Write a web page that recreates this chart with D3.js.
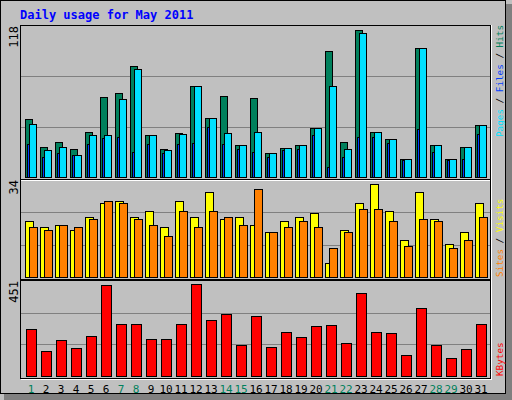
<!DOCTYPE html><html><head><meta charset="utf-8"><script src="https://cdn.jsdelivr.net/npm/d3@7"></script>
<style>body{margin:0;background:#fff}</style></head><body><svg id="c" width="512" height="400"></svg><script>
const days=d3.range(1,32);
const weekends=[1,7,8,14,15,21,22,28,29];
const hits=[45.6,23.7,27.6,22.1,35.4,62.8,65.9,87,33.1,22.1,34.6,71.4,46.4,63.5,25.3,62,19,22.9,25.3,38.5,98.7,27.6,115,35.4,29.9,14.3,101,25.3,14.3,23.7,40.9];
const files=[41.7,21.4,23.7,17.4,33.1,33.1,61.2,84.6,33.1,21.4,33.9,71.4,46.4,34.6,25.3,35.4,19,22.9,25.3,38.5,71.4,22.1,112.8,35.4,29.9,14.3,101,25.3,14.3,23.7,40.9];
const pages=[25.5,15.4,19,17.4,26,30.2,31,19.8,26,19,26,26.8,38.8,26,22.1,19.8,15.9,21.4,22.1,33.1,8.1,15.9,31.5,31.5,26.8,13.5,37.8,19.8,13.5,14.3,33.9];
const visits=[19.5,17.4,18.4,16.3,21.2,26.1,26.8,21.2,23,17.4,26.8,21.2,29.7,20.2,21.2,18.4,15.6,19.5,21.2,22.3,5,16.3,26.1,32.5,23,12.8,29.7,20.2,11.7,15.6,26.1];
const sites=[17.4,16.3,18.4,17.4,20.2,26.8,26.1,20.2,18.4,14.5,23,17.4,23,21.2,18.4,30.7,15.6,17.4,19.5,17.4,10,15.6,24,24,19.5,10.7,20.2,19.5,10,12.8,21.2];
const kbytes=[225,121,173,135,192,430,249,249,178,178,245,435,268,292,145,283,140,211,187,235,240,159,392,211,202,102,321,149,87,130,249];
const maxLabels=["118","34","451"];
const svg=d3.select("#c");
const mono="'DejaVu Sans Mono',monospace";
svg.append("rect").attr("x",0).attr("y",0).attr("width",512).attr("height",400).attr("fill","#c0c0c0");
svg.append("rect").attr("x",0.5).attr("y",0.5).attr("width",505).attr("height",393).attr("fill","none").attr("stroke","#000");
svg.append("rect").attr("x",506).attr("y",4).attr("width",6).attr("height",396).attr("fill","#808080");
svg.append("rect").attr("x",4).attr("y",394).attr("width",508).attr("height",6).attr("fill","#808080");
svg.append("text").attr("x",20).attr("y",19).attr("fill","#0000ff").attr("font-family",mono).attr("font-weight","bold").attr("font-size",12).text("Daily usage for May 2011");
const x=d3.scaleBand().domain(days).range([25,490]).paddingInner(0);
const panels=[{top:26,base:177,max:118},{top:180,base:277,max:34},{top:281,base:376,max:451}];
panels.forEach((p,i)=>{
  const fy=p.top-1, fb=p.base+2;
  svg.append("rect").attr("x",20.5).attr("y",fy+0.5).attr("width",470).attr("height",fb-fy).attr("fill","none").attr("stroke","#000");
  svg.append("line").attr("x1",21).attr("x2",492).attr("y1",fb+1.5).attr("y2",fb+1.5).attr("stroke","#fff");
  svg.append("line").attr("x1",491.5).attr("x2",491.5).attr("y1",fy).attr("y2",fb+2).attr("stroke","#fff");
  p.y=d3.scaleLinear().domain([0,p.max]).range([p.base,p.top]);
  [1/3,2/3].forEach(f=>svg.append("line").attr("x1",21).attr("x2",490).attr("y1",Math.round(p.y(p.max*f))+0.5).attr("y2",Math.round(p.y(p.max*f))+0.5).attr("stroke","#808080"));
  svg.append("text").attr("transform",`translate(18,${p.top}) rotate(-90)`).attr("text-anchor","end").attr("font-family",mono).attr("font-size",12).attr("fill","#000").text(maxLabels[i]);
});
function bars(p,vals,dx,w,color){
  svg.append("g").selectAll("rect").data(vals).join("rect")
    .attr("x",(d,i)=>x(days[i])+dx+0.5).attr("y",d=>Math.round(p.y(d))+0.5)
    .attr("width",w).attr("height",d=>Math.max(0,p.base-Math.round(p.y(d))))
    .attr("fill",color).attr("stroke","#000");
}
bars(panels[0],hits,0,7,"#00805c");
bars(panels[0],files,4,7,"#00e0ff");
bars(panels[0],pages,2,2,"#0040ff");
bars(panels[1],visits,0,8,"#ffff00");
bars(panels[1],sites,4,8,"#ff8000");
bars(panels[2],kbytes,1,10,"#ff0000");
svg.append("g").selectAll("text").data(days).join("text")
  .attr("x",d=>x(d)+6).attr("y",393).attr("text-anchor","middle").attr("font-family",mono).attr("font-size",11)
  .attr("fill",d=>weekends.includes(d)?"#00805c":"#000").text(d=>d);
function rlabel(y,parts){
  const t=svg.append("text").attr("transform",`translate(503,${y}) rotate(-90)`).attr("font-family",mono).attr("font-size",9.3);
  parts.forEach(([s,c])=>t.append("tspan").attr("fill",c).text(s));
}
rlabel(137,[["Pages","#00e0ff"],[" / ","#000"],["Files","#0040ff"],[" / ","#000"],["Hits","#00805c"]]);
rlabel(277,[["Sites","#ff8000"],[" / ","#000"],["Visits","#ffff00"]]);
rlabel(376,[["KBytes","#ff0000"]]);
</script></body></html>
